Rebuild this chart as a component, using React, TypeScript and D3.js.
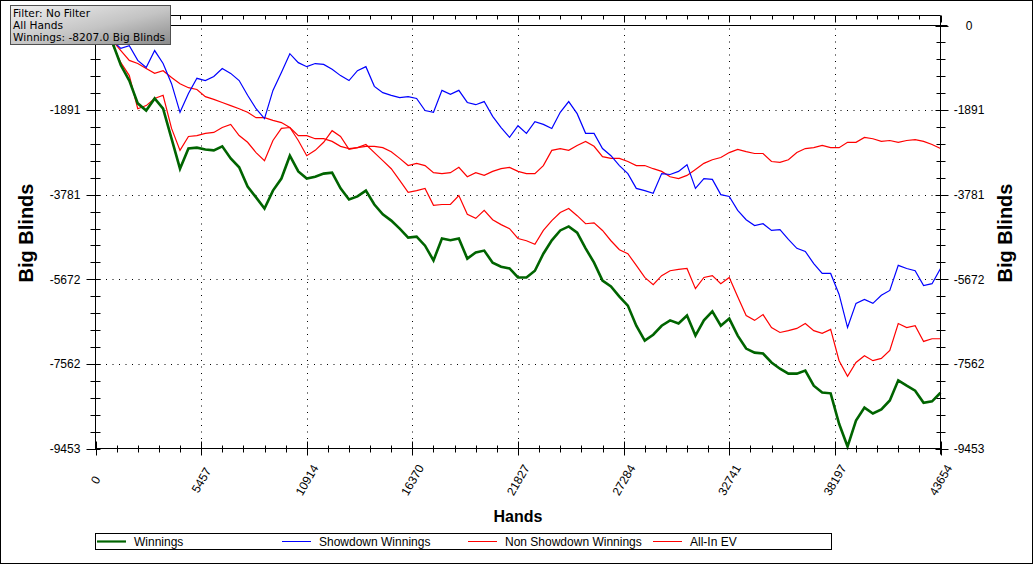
import React from 'react';
import * as d3 from 'd3';

const TOTAL_HANDS = 43654;
const X_TICKS = [0, 5457, 10914, 16370, 21827, 27284, 32741, 38197, 43654];
const Y_TICKS = [0, -1891, -3781, -5672, -7562, -9453];
const SAMPLE_COUNT = 100; // values read every 1/100th of the hand range

const SERIES_NAMES = ['Winnings', 'Showdown Winnings', 'Non Showdown Winnings', 'All-In EV'];
const SERIES_COLORS = ['#006400', '#0000ff', '#ff0000', '#ff0000'];

const WINNINGS = [0, -180, -380, -890, -1230, -1740, -1900, -1630, -1860, -2530,
  -3200, -2750, -2730, -2770, -2790, -2700, -2970, -3170, -3600, -3840,
  -4090, -3690, -3420, -2910, -3260, -3420, -3380, -3310, -3290, -3640,
  -3890, -3820, -3690, -4000, -4220, -4360, -4540, -4740, -4720, -4920,
  -5250, -4760, -4800, -4760, -5210, -5070, -5030, -5300, -5390, -5430,
  -5630, -5630, -5480, -5100, -4800, -4580, -4490, -4630, -4980, -5300,
  -5700, -5830, -6060, -6260, -6710, -7040, -6910, -6710, -6590, -6660,
  -6480, -6930, -6590, -6390, -6710, -6550, -6930, -7220, -7310, -7330,
  -7530, -7670, -7780, -7780, -7710, -8050, -8200, -8220, -8900, -9410,
  -8830, -8540, -8670, -8580, -8380, -7930, -8050, -8160, -8430, -8400,
  -8207];

const SHOWDOWN = [0, -160, -340, -510, -450, -780, -940, -560, -850, -1300,
  -1940, -1520, -1180, -1230, -1140, -960, -1070, -1230, -1560, -1860,
  -2080, -1450, -1050, -630, -830, -920, -850, -870, -980, -1120,
  -1230, -1010, -920, -1360, -1500, -1560, -1610, -1590, -1630, -1900,
  -1940, -1450, -1540, -1450, -1720, -1770, -1700, -2030, -2280, -2500,
  -2240, -2410, -2150, -2210, -2300, -1940, -1700, -1970, -2410, -2410,
  -2750, -2910, -3130, -3310, -3640, -3690, -3750, -3310, -3330, -3260,
  -3110, -3640, -3420, -3440, -3780, -3820, -4130, -4340, -4470, -4430,
  -4580, -4560, -4780, -4980, -5050, -5320, -5540, -5540, -6010, -6750,
  -6210, -6120, -6210, -6030, -5920, -5360, -5430, -5480, -5810, -5770,
  -5430];

const NON_SHOWDOWN = [0, -180, -340, -560, -780, -850, -960, -1070, -1010, -1160,
  -1300, -1390, -1430, -1590, -1650, -1720, -1790, -1860, -1940, -2060,
  -2060, -2120, -2170, -2280, -2460, -2460, -2530, -2530, -2590, -2700,
  -2750, -2730, -2700, -2700, -2730, -2820, -2970, -3130, -3080, -3130,
  -3290, -3310, -3290, -3170, -3380, -3290, -3350, -3260, -3200, -3170,
  -3260, -3310, -3310, -3130, -2790, -2750, -2790, -2680, -2590, -2700,
  -2930, -2970, -2970, -3040, -3130, -3130, -3200, -3260, -3380, -3420,
  -3350, -3220, -3080, -3000, -2950, -2840, -2770, -2820, -2860, -2860,
  -3040, -3060, -3000, -2840, -2750, -2730, -2680, -2730, -2730, -2610,
  -2610, -2500, -2530, -2590, -2570, -2610, -2570, -2550, -2590, -2660,
  -2750];

const ALLIN_EV = [0, -220, -420, -830, -1120, -1860, -1790, -1630, -1560, -2300,
  -2790, -2480, -2460, -2410, -2390, -2280, -2210, -2460, -2610, -2840,
  -3020, -2570, -2300, -2280, -2570, -2910, -2790, -2610, -2350, -2480,
  -2770, -2730, -2660, -2840, -3020, -3200, -3460, -3730, -3690, -3640,
  -4020, -4000, -4000, -3800, -4220, -4310, -4130, -4340, -4450, -4540,
  -4760, -4810, -4890, -4580, -4360, -4180, -4090, -4250, -4430, -4410,
  -4580, -4810, -5010, -5100, -5360, -5630, -5790, -5590, -5480, -5450,
  -5430, -5880, -5630, -5590, -5770, -5630, -6060, -6480, -6590, -6460,
  -6750, -6860, -6820, -6770, -6660, -6820, -6880, -6790, -7490, -7840,
  -7530, -7380, -7490, -7440, -7260, -6660, -6750, -6710, -7060, -7000,
  -7000];

const INFO_LINES = ['Filter: No Filter', 'All Hands', 'Winnings: -8207.0 Big Blinds'];

const W = 1034;
const H = 565;
const FONT = '"Liberation Sans", Arial, sans-serif';

export default function App() {
  const x = d3.scaleLinear().domain([0, TOTAL_HANDS]).range([95.5, 940.5]);
  const y = d3.scaleLinear().domain([0, -9453]).range([25.5, 448.5]);
  const left = x.range()[0];
  const right = x.range()[1];
  const top = y.range()[0];
  const bottom = y.range()[1];
  const frameTop = 15.5;

  const line = d3
    .line<number>()
    .x((_, i) => x((i * TOTAL_HANDS) / SAMPLE_COUNT))
    .y((d) => y(d));

  // minor ticks: 5 subdivisions between majors
  const xMinor: number[] = [];
  for (let k = 0; k < X_TICKS.length - 1; k++) {
    for (let j = 1; j < 5; j++) xMinor.push(X_TICKS[k] + ((X_TICKS[k + 1] - X_TICKS[k]) * j) / 5);
  }
  const yMinor: number[] = [];
  for (let k = 0; k < Y_TICKS.length - 1; k++) {
    for (let j = 1; j < 5; j++) yMinor.push(Y_TICKS[k] + ((Y_TICKS[k + 1] - Y_TICKS[k]) * j) / 5);
  }

  const series = [ALLIN_EV, NON_SHOWDOWN, SHOWDOWN, WINNINGS];
  const seriesColor = [SERIES_COLORS[3], SERIES_COLORS[2], SERIES_COLORS[1], SERIES_COLORS[0]];
  const seriesWidth = [1.2, 1.2, 1.2, 2.6];

  const legendX = [97, 282, 468, 653];

  return (
    <svg
      width={W}
      height={H}
      style={{ position: 'absolute', left: 0, top: 0, background: '#fff' }}
      fontFamily={FONT}
    >
      <defs>
        <linearGradient id="infoGrad" x1="0" y1="0" x2="1" y2="1">
          <stop offset="0" stopColor="#f0f0f0" />
          <stop offset="0.55" stopColor="#c4c4c4" />
          <stop offset="1" stopColor="#8a8a8a" />
        </linearGradient>
      </defs>
      <rect x={0.5} y={0.5} width={W - 2} height={H - 2} fill="#fff" stroke="#000" />

      {/* gridlines */}
      {X_TICKS.slice(1, -1).map((t) => (
        <line key={'gx' + t} x1={Math.round(x(t)) + 0.5} x2={Math.round(x(t)) + 0.5} y1={top + 3} y2={bottom}
          stroke="#000" strokeDasharray="1 5.5" />
      ))}
      {Y_TICKS.slice(1, -1).map((t) => (
        <line key={'gy' + t} x1={left + 4} x2={right} y1={Math.round(y(t)) + 0.5} y2={Math.round(y(t)) + 0.5}
          stroke="#000" strokeDasharray="1 5.5" />
      ))}
      {/* zero line */}
      <line x1={left} x2={right + 7} y1={top} y2={top} stroke="#000" />

      {/* series */}
      {series.map((s, k) => (
        <path key={'s' + k} d={line(s) || ''} fill="none" stroke={seriesColor[k]} strokeWidth={seriesWidth[k]}
          strokeLinejoin="miter" />
      ))}

      {/* frame top axis */}
      <line x1={left} x2={right} y1={frameTop} y2={frameTop} stroke="#000" />
      {X_TICKS.map((t) => (
        <line key={'tt' + t} x1={Math.round(x(t)) + 0.5} x2={Math.round(x(t)) + 0.5} y1={frameTop} y2={frameTop + 7} stroke="#000" />
      ))}
      {xMinor.map((t) => (
        <line key={'ttm' + t} x1={Math.round(x(t)) + 0.5} x2={Math.round(x(t)) + 0.5} y1={frameTop} y2={frameTop + 4} stroke="#000" />
      ))}

      {/* left axis */}
      <line x1={left} x2={left} y1={top} y2={bottom + 1} stroke="#000" />
      {Y_TICKS.map((t) => (
        <line key={'lt' + t} x1={left - 9} x2={left + 5} y1={Math.round(y(t)) + 0.5} y2={Math.round(y(t)) + 0.5} stroke="#000" />
      ))}
      {yMinor.map((t) => (
        <line key={'ltm' + t} x1={left - 5} x2={left + 5} y1={Math.round(y(t)) + 0.5} y2={Math.round(y(t)) + 0.5} stroke="#000" />
      ))}
      {Y_TICKS.map((t) => (
        <text key={'ll' + t} x={65} y={y(t)} dy="0.36em" textAnchor="middle" fontSize={12} fill="#000">
          {t}
        </text>
      ))}

      {/* right axis */}
      <line x1={right} x2={right} y1={frameTop} y2={bottom + 6} stroke="#000" />
      {Y_TICKS.map((t) => (
        <line key={'rt' + t} x1={right - 5} x2={right + 8} y1={Math.round(y(t)) + 0.5} y2={Math.round(y(t)) + 0.5} stroke="#000" />
      ))}
      {yMinor.map((t) => (
        <line key={'rtm' + t} x1={right - 4} x2={right + 5} y1={Math.round(y(t)) + 0.5} y2={Math.round(y(t)) + 0.5} stroke="#000" />
      ))}
      {Y_TICKS.map((t) => (
        <text key={'rl' + t} x={969} y={y(t)} dy="0.36em" textAnchor="middle" fontSize={12} fill="#000">
          {t}
        </text>
      ))}

      {/* bottom axis */}
      <line x1={left} x2={right} y1={bottom} y2={bottom} stroke="#000" />
      {X_TICKS.map((t) => (
        <line key={'bt' + t} x1={Math.round(x(t)) + 0.5} x2={Math.round(x(t)) + 0.5} y1={bottom - 7} y2={bottom + 7} stroke="#000" />
      ))}
      {xMinor.map((t) => (
        <line key={'btm' + t} x1={Math.round(x(t)) + 0.5} x2={Math.round(x(t)) + 0.5} y1={bottom - 3} y2={bottom + 4} stroke="#000" />
      ))}
      {X_TICKS.map((t) => (
        <text key={'bl' + t} transform={`translate(${x(t)},480) rotate(-60)`} dy="0.36em" textAnchor="middle"
          fontSize={12} fill="#000">
          {t}
        </text>
      ))}

      {/* axis titles */}
      <text transform={`translate(33,${(top + bottom) / 2 - 4}) rotate(-90)`} textAnchor="middle" fontSize={20}
        fontWeight="bold" fill="#000">Big Blinds</text>
      <text transform={`translate(1012,${(top + bottom) / 2 - 4}) rotate(-90)`} textAnchor="middle" fontSize={20}
        fontWeight="bold" fill="#000">Big Blinds</text>
      <text x={(left + right) / 2} y={522} textAnchor="middle" fontSize={16} fontWeight="bold" fill="#000">Hands</text>

      {/* legend */}
      <rect x={95.5} y={533.5} width={736} height={16} fill="#fff" stroke="#000" />
      {SERIES_NAMES.map((name, k) => (
        <g key={'lg' + k}>
          <line x1={legendX[k]} x2={legendX[k] + 29} y1={541.5} y2={541.5} stroke={SERIES_COLORS[k]}
            strokeWidth={k === 0 ? 2.2 : 1} />
          <text x={legendX[k] + 37} y={545.5} fontSize={12} fill="#000">{name}</text>
        </g>
      ))}

      {/* info box */}
      <rect x={10.5} y={5.5} width={160} height={39} fill="url(#infoGrad)" stroke="#505050" />
      {INFO_LINES.map((s, k) => (
        <text key={'info' + k} x={13} y={16.5 + k * 12.3} fontSize={10.6} fill="#000"
          fontFamily='"DejaVu Sans", Verdana, sans-serif'>{s}</text>
      ))}
    </svg>
  );
}
